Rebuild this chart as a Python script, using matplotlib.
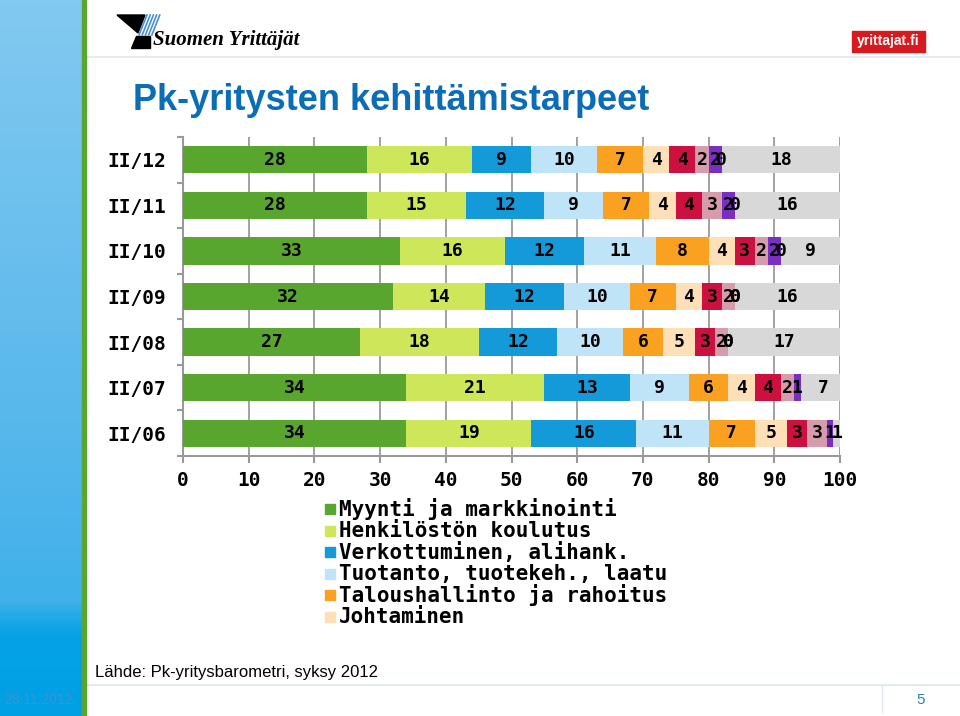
import numpy as np
import matplotlib
matplotlib.use("Agg")
import matplotlib.pyplot as plt
from matplotlib.patches import Rectangle, Polygon

# survey rounds, top to bottom
rounds = ["II/12", "II/11", "II/10", "II/09", "II/08", "II/07", "II/06"]

# shares (%) per development need
myynti = [28, 28, 33, 32, 27, 34, 34]
henkilosto = [16, 15, 16, 14, 18, 21, 19]
verkottuminen = [9, 12, 12, 12, 12, 13, 16]
tuotanto = [10, 9, 11, 10, 10, 9, 11]
talous = [7, 7, 8, 7, 6, 6, 7]
johtaminen = [4, 4, 4, 4, 5, 4, 5]
muu_a = [4, 4, 3, 3, 3, 4, 3]
muu_b = [2, 3, 2, 2, 2, 2, 3]
muu_c = [2, 2, 2, 0, 0, 1, 1]
muu_d = [0, 0, 0, 0, 0, np.nan, np.nan]
ei_tarpeita = [18, 16, 9, 16, 17, 7, 1]

series = [myynti, henkilosto, verkottuminen, tuotanto, talous, johtaminen,
          muu_a, muu_b, muu_c, muu_d, ei_tarpeita]
colors = ["#58a62e", "#cde65a", "#149ad8", "#bfe4f7", "#fba122", "#fddfb8",
          "#cc1040", "#d69cab", "#7b2fc2", "#9bbb59", "#d8d8d8"]
legend_names = ["Myynti ja markkinointi", "Henkilöstön koulutus",
                "Verkottuminen, alihank.", "Tuotanto, tuotekeh., laatu",
                "Taloushallinto ja rahoitus", "Johtaminen"]

W, H = 960, 716
fig = plt.figure(figsize=(W / 100, H / 100), dpi=100)
fig.patch.set_facecolor("white")

# left decorative stripe
grad = np.linspace(0, 1, 300).reshape(-1, 1)
stripe = fig.add_axes([0, 0, 82 / W, 1])
stripe.imshow(grad, aspect="auto", cmap=matplotlib.colors.LinearSegmentedColormap.from_list(
    "s", [(0, "#82c9f0"), (0.55, "#5bb9ec"), (0.84, "#40b1ea"), (0.89, "#05a2e6"), (1, "#00a0e4")]),
    extent=[0, 1, 1, 0])
stripe.axis("off")
fig.patches.append(Rectangle((82 / W, 0), 4 / W, 1, transform=fig.transFigure,
                             color="#58a62e", zorder=5))

# header
fig.lines.append(plt.Line2D([86 / W, 1], [1 - 57 / H] * 2, transform=fig.transFigure,
                            color="#dfe7ec", lw=1.2))
px = lambda x, y: (x / W, 1 - y / H)
fig.patches.append(Polygon([px(117, 15), px(145, 15), px(138, 33)], closed=True,
                           transform=fig.transFigure, color="black"))
fig.patches.append(Polygon([px(136, 36), px(150, 36), px(150, 48), px(131, 48)], closed=True,
                           transform=fig.transFigure, color="black"))
for k in range(5):
    off = k * 3.2
    fig.lines.append(plt.Line2D([(139 + off) / W, (147 + off) / W],
                                [1 - 35 / H, 1 - 15 / H], transform=fig.transFigure,
                                color="#4a90d0", lw=1.2))
fig.text(153 / W, 1 - 40 / H, "Suomen Yrittäjät", family="Liberation Serif",
         style="italic", weight="bold", fontsize=15, va="center", ha="left")
fig.patches.append(Rectangle(px(852, 52), 73 / W, 21 / H, transform=fig.transFigure,
                             color="#d71920"))
fig.text(888.5 / W, 1 - 41.5 / H, "yrittajat.fi", family="Liberation Sans",
         weight="bold", fontsize=10, color="white", va="center", ha="center")

fig.text(133 / W, 1 - 100 / H, "Pk-yritysten kehittämistarpeet", family="Liberation Sans",
         weight="bold", fontsize=26, color="#0b6db6", va="center", ha="left")

# chart
ax = fig.add_axes([183 / W, 1 - 456 / H, 657 / W, 319 / H])
y = np.arange(len(rounds))
left = np.zeros(len(rounds))
mono = dict(family="DejaVu Sans Mono", weight="bold")
for vals, col in zip(series, colors):
    v = np.array(vals, dtype=float)
    w = np.nan_to_num(v)
    ax.barh(y, w, left=left, height=0.6, color=col, zorder=3)
    for i in range(len(rounds)):
        if not np.isnan(v[i]):
            ax.text(left[i] + w[i] / 2, y[i], f"{int(v[i])}", ha="center", va="center",
                    fontsize=13, zorder=4, **mono)
    left += w

ax.set_xlim(0, 100)
ax.set_ylim(6.5, -0.5)
ax.set_xticks(np.arange(0, 101, 10))
ax.set_xticklabels([str(t) for t in range(0, 101, 10)], fontsize=14, **mono)
ax.set_yticks(y)
ax.set_yticklabels(rounds, fontsize=14, **mono)
ax.set_yticks(np.arange(-0.5, 7, 1), minor=True)
ax.tick_params(axis="y", which="major", length=0, pad=12)
ax.tick_params(axis="y", which="minor", length=4, color="#999999", width=1.5)
ax.tick_params(axis="x", length=5, color="#999999", width=1.5, pad=6)
ax.grid(axis="x", color="#9a9a9a", lw=1.3, zorder=0)
for s in ["top", "right"]:
    ax.spines[s].set_visible(False)
for s in ["left", "bottom"]:
    ax.spines[s].set_color("#999999")
    ax.spines[s].set_linewidth(1.5)
ax.set_facecolor("none")

# legend (only first six visible in the original)
for i, (name, col) in enumerate(zip(legend_names, colors)):
    yc = 509 + 21.6 * i
    fig.patches.append(Rectangle(px(325, yc + 5), 10 / W, 10 / H,
                                 transform=fig.transFigure, color=col))
    fig.text(339 / W, 1 - yc / H, name, fontsize=15, va="center", ha="left", **mono)

# footer
fig.text(95 / W, 1 - 672 / H, "Lähde: Pk-yritysbarometri, syksy 2012",
         family="Liberation Sans", fontsize=12, va="center", ha="left")
fig.lines.append(plt.Line2D([86 / W, 1], [1 - 685 / H] * 2, transform=fig.transFigure,
                            color="#dfe7ec", lw=1.2))
fig.lines.append(plt.Line2D([882 / W] * 2, [1 - 686 / H, 1 - 712 / H],
                            transform=fig.transFigure, color="#dfe7ec", lw=1))
fig.text(4 / W, 1 - 700 / H, "28.11.2012", family="Liberation Sans", fontsize=10,
         color="#3d93d2", va="center", ha="left")
fig.text(921 / W, 1 - 700 / H, "5", family="Liberation Sans", fontsize=11,
         color="#2f7fc0", va="center", ha="center")

fig.savefig("out.png", dpi=100)
